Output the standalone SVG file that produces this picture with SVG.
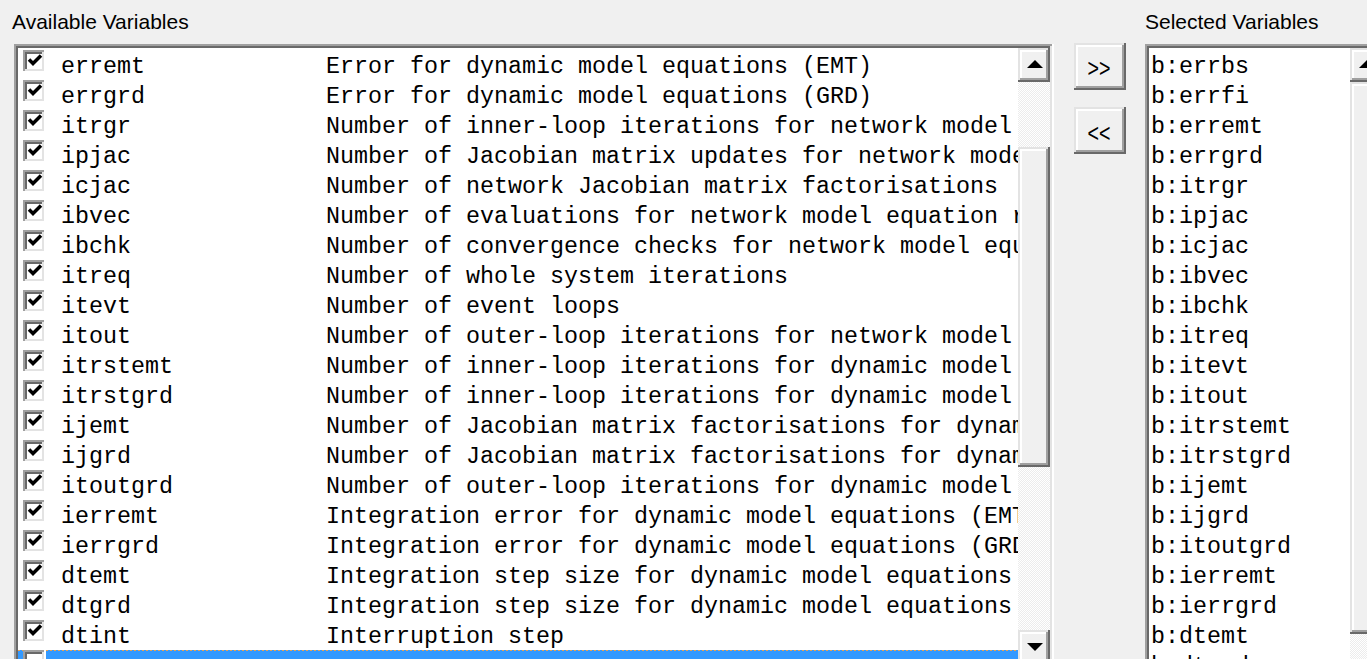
<svg xmlns="http://www.w3.org/2000/svg" width="1367" height="659" viewBox="0 0 1367 659">
<defs>
<style>
.lbl{font-family:"Liberation Sans",Arial,sans-serif;font-size:21px;fill:#000}
.mono{font-family:"Liberation Mono","Courier New",monospace;font-size:23.33px;fill:#000}
.btxt{font-family:"Liberation Sans",Arial,sans-serif;font-size:25px;fill:#000}
.dk{fill:#696969}.sh{fill:#a0a0a0}.lt{fill:#e3e3e3}.hl{fill:#fff}.face{fill:#f0f0f0}
.arrow{fill:#000}
</style>
<pattern id="dither" width="2" height="2" patternUnits="userSpaceOnUse">
<rect width="2" height="2" fill="#ececec"/><rect width="1" height="1" fill="#fff"/><rect x="1" y="1" width="1" height="1" fill="#fff"/>
</pattern>
<g id="cbox">
<rect width="23" height="23" fill="#fff"/>
<rect width="21" height="21" fill="#a0a0a0"/>
<rect x="2" y="2" width="19" height="19" fill="#e3e3e3"/>
<rect x="2" y="2" width="17" height="17" fill="#696969"/>
<rect x="4" y="4" width="15" height="15" fill="#fff"/>
</g>
<g id="cb">
<use href="#cbox"/>
<polyline points="6,9.5 10,13.5 18,5.5" fill="none" stroke="#000" stroke-width="3.5"/>
</g>
<clipPath id="clipL"><rect x="18" y="48" width="1000" height="611"/></clipPath>
<clipPath id="clipR"><rect x="1149" y="48" width="201" height="611"/></clipPath>
</defs>

<rect width="1367" height="659" fill="#f0f0f0"/>

<g id="label-available"><text class="lbl" x="12" y="29">Available Variables</text></g>
<g id="label-selected"><text class="lbl" x="1145" y="29">Selected Variables</text></g>

<g id="list-available">
<rect x="14" y="44" width="1040" height="700" fill="#fff"/>
<rect x="14" y="44" width="1038" height="698" class="sh"/>
<rect x="16" y="46" width="1036" height="696" class="lt"/>
<rect x="16" y="46" width="1034" height="694" class="dk"/>
<rect x="18" y="48" width="1032" height="692" fill="#fff"/>

<g id="selected-row">
<rect x="18" y="650" width="1000" height="20" fill="#3399ff"/>
<line x1="18" y1="650.5" x2="1017" y2="650.5" stroke="#e8a050" stroke-width="1" stroke-dasharray="2 2"/>
<use href="#cbox" x="23" y="650"/>
</g>

<g id="checkboxes">
<use href="#cb" x="23" y="50"/>
<use href="#cb" x="23" y="80"/>
<use href="#cb" x="23" y="110"/>
<use href="#cb" x="23" y="140"/>
<use href="#cb" x="23" y="170"/>
<use href="#cb" x="23" y="200"/>
<use href="#cb" x="23" y="230"/>
<use href="#cb" x="23" y="260"/>
<use href="#cb" x="23" y="290"/>
<use href="#cb" x="23" y="320"/>
<use href="#cb" x="23" y="350"/>
<use href="#cb" x="23" y="380"/>
<use href="#cb" x="23" y="410"/>
<use href="#cb" x="23" y="440"/>
<use href="#cb" x="23" y="470"/>
<use href="#cb" x="23" y="500"/>
<use href="#cb" x="23" y="530"/>
<use href="#cb" x="23" y="560"/>
<use href="#cb" x="23" y="590"/>
<use href="#cb" x="23" y="620"/>
</g>

<g id="names" class="mono" clip-path="url(#clipL)">
<text x="61" y="73">erremt</text>
<text x="61" y="103">errgrd</text>
<text x="61" y="133">itrgr</text>
<text x="61" y="163">ipjac</text>
<text x="61" y="193">icjac</text>
<text x="61" y="223">ibvec</text>
<text x="61" y="253">ibchk</text>
<text x="61" y="283">itreq</text>
<text x="61" y="313">itevt</text>
<text x="61" y="343">itout</text>
<text x="61" y="373">itrstemt</text>
<text x="61" y="403">itrstgrd</text>
<text x="61" y="433">ijemt</text>
<text x="61" y="463">ijgrd</text>
<text x="61" y="493">itoutgrd</text>
<text x="61" y="523">ierremt</text>
<text x="61" y="553">ierrgrd</text>
<text x="61" y="583">dtemt</text>
<text x="61" y="613">dtgrd</text>
<text x="61" y="643">dtint</text>
</g>

<g id="descriptions" class="mono" clip-path="url(#clipL)">
<text x="326" y="73">Error for dynamic model equations (EMT)</text>
<text x="326" y="103">Error for dynamic model equations (GRD)</text>
<text x="326" y="133">Number of inner-loop iterations for network model</text>
<text x="326" y="163">Number of Jacobian matrix updates for network mode</text>
<text x="326" y="193">Number of network Jacobian matrix factorisations</text>
<text x="326" y="223">Number of evaluations for network model equation r</text>
<text x="326" y="253">Number of convergence checks for network model equ</text>
<text x="326" y="283">Number of whole system iterations</text>
<text x="326" y="313">Number of event loops</text>
<text x="326" y="343">Number of outer-loop iterations for network model</text>
<text x="326" y="373">Number of inner-loop iterations for dynamic model</text>
<text x="326" y="403">Number of inner-loop iterations for dynamic model</text>
<text x="326" y="433">Number of Jacobian matrix factorisations for dynam</text>
<text x="326" y="463">Number of Jacobian matrix factorisations for dynam</text>
<text x="326" y="493">Number of outer-loop iterations for dynamic model</text>
<text x="326" y="523">Integration error for dynamic model equations (EMT</text>
<text x="326" y="553">Integration error for dynamic model equations (GRD</text>
<text x="326" y="583">Integration step size for dynamic model equations</text>
<text x="326" y="613">Integration step size for dynamic model equations</text>
<text x="326" y="643">Interruption step</text>
</g>

<g id="scrollbar-available">
<rect x="1018" y="48" width="32" height="611" fill="url(#dither)"/>
<g id="sbL-up">
<rect x="1018" y="48" width="32" height="34" class="dk"/>
<rect x="1018" y="48" width="30" height="32" class="lt"/>
<rect x="1020" y="50" width="28" height="30" class="sh"/>
<rect x="1020" y="50" width="26" height="28" class="hl"/>
<rect x="1022" y="52" width="24" height="26" class="face"/>
<polygon class="arrow" points="1027,68 1043,68 1035,60"/>
</g>
<g id="sbL-thumb">
<rect x="1018" y="147" width="32" height="320" class="dk"/>
<rect x="1018" y="147" width="30" height="318" class="lt"/>
<rect x="1020" y="149" width="28" height="316" class="sh"/>
<rect x="1020" y="149" width="26" height="314" class="hl"/>
<rect x="1022" y="151" width="24" height="312" class="face"/>
</g>
<g id="sbL-down">
<rect x="1018" y="630" width="32" height="35" class="dk"/>
<rect x="1018" y="630" width="30" height="33" class="lt"/>
<rect x="1020" y="632" width="28" height="31" class="sh"/>
<rect x="1020" y="632" width="26" height="29" class="hl"/>
<rect x="1022" y="634" width="24" height="27" class="face"/>
<polygon class="arrow" points="1027,643 1043,643 1035,651"/>
</g>
</g>
</g>

<g id="btn-add">
<rect x="1074" y="43" width="52" height="47" class="dk"/>
<rect x="1074" y="43" width="50" height="45" class="lt"/>
<rect x="1076" y="45" width="48" height="43" class="sh"/>
<rect x="1076" y="45" width="46" height="41" class="hl"/>
<rect x="1078" y="47" width="44" height="39" class="face"/>
<text class="btxt" x="1099" y="76.5" text-anchor="middle" textLength="23" lengthAdjust="spacingAndGlyphs">&gt;&gt;</text>
</g>

<g id="btn-remove">
<rect x="1074" y="107" width="52" height="47" class="dk"/>
<rect x="1074" y="107" width="50" height="45" class="lt"/>
<rect x="1076" y="109" width="48" height="43" class="sh"/>
<rect x="1076" y="109" width="46" height="41" class="hl"/>
<rect x="1078" y="111" width="44" height="39" class="face"/>
<text class="btxt" x="1099" y="141.5" text-anchor="middle" textLength="23" lengthAdjust="spacingAndGlyphs">&lt;&lt;</text>
</g>

<g id="list-selected">
<rect x="1145" y="44" width="300" height="700" fill="#fff"/>
<rect x="1145" y="44" width="298" height="698" class="sh"/>
<rect x="1147" y="46" width="296" height="696" class="lt"/>
<rect x="1147" y="46" width="294" height="694" class="dk"/>
<rect x="1149" y="48" width="292" height="692" fill="#fff"/>

<g id="selected-items" class="mono" clip-path="url(#clipR)">
<text x="1151" y="72.5">b:errbs</text>
<text x="1151" y="102.5">b:errfi</text>
<text x="1151" y="132.5">b:erremt</text>
<text x="1151" y="162.5">b:errgrd</text>
<text x="1151" y="192.5">b:itrgr</text>
<text x="1151" y="222.5">b:ipjac</text>
<text x="1151" y="252.5">b:icjac</text>
<text x="1151" y="282.5">b:ibvec</text>
<text x="1151" y="312.5">b:ibchk</text>
<text x="1151" y="342.5">b:itreq</text>
<text x="1151" y="372.5">b:itevt</text>
<text x="1151" y="402.5">b:itout</text>
<text x="1151" y="432.5">b:itrstemt</text>
<text x="1151" y="462.5">b:itrstgrd</text>
<text x="1151" y="492.5">b:ijemt</text>
<text x="1151" y="522.5">b:ijgrd</text>
<text x="1151" y="552.5">b:itoutgrd</text>
<text x="1151" y="582.5">b:ierremt</text>
<text x="1151" y="612.5">b:ierrgrd</text>
<text x="1151" y="642.5">b:dtemt</text>
<text x="1151" y="672.5">b:dtgrd</text>
</g>

<g id="scrollbar-selected">
<rect x="1350" y="48" width="34" height="611" fill="url(#dither)"/>
<g id="sbR-up">
<rect x="1350" y="48" width="34" height="34" class="dk"/>
<rect x="1350" y="48" width="32" height="32" class="lt"/>
<rect x="1352" y="50" width="30" height="30" class="sh"/>
<rect x="1352" y="50" width="28" height="28" class="hl"/>
<rect x="1354" y="52" width="26" height="26" class="face"/>
<polygon class="arrow" points="1359,68 1375,68 1367,60"/>
</g>
<g id="sbR-thumb">
<rect x="1350" y="82" width="34" height="552" class="dk"/>
<rect x="1350" y="82" width="32" height="550" class="lt"/>
<rect x="1352" y="84" width="30" height="548" class="sh"/>
<rect x="1352" y="84" width="28" height="546" class="hl"/>
<rect x="1354" y="86" width="26" height="544" class="face"/>
</g>
</g>
</g>
</svg>
